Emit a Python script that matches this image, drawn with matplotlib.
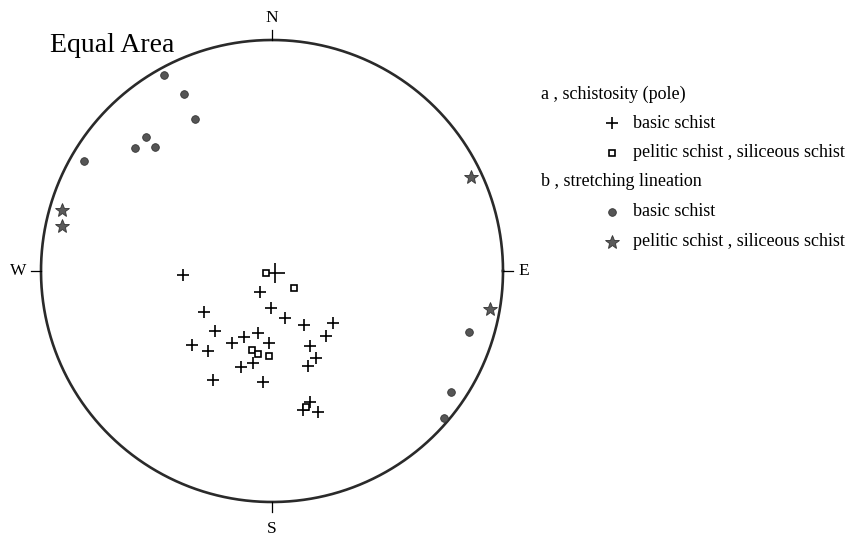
import matplotlib
matplotlib.use("Agg")
from matplotlib import pyplot as plt
from matplotlib.lines import Line2D
import numpy as np

pole_basic_x = [-0.385, -0.052, -0.294, -0.004, 0.056, 0.139, 0.264, 0.234,
                -0.247, -0.121, -0.061, -0.173, -0.013, -0.346, -0.277, 0.165,
                0.190, 0.156, -0.082, -0.134, -0.255, -0.039, 0.165, 0.134, 0.199]
pole_basic_y = [-0.017, -0.091, -0.177, -0.160, -0.203, -0.234, -0.225,
                -0.281, -0.260, -0.286, -0.268, -0.312, -0.312, -0.320, -0.346,
                -0.325, -0.377, -0.411, -0.398, -0.416, -0.472, -0.481, -0.567,
                -0.602, -0.610]
pole_mean_x = [0.013]
pole_mean_y = [-0.009]
pole_pelitic_x = [-0.026, 0.095, -0.087, -0.061, -0.013, 0.147]
pole_pelitic_y = [-0.009, -0.074, -0.342, -0.359, -0.368, -0.589]

lin_basic_x = [-0.468, -0.381, -0.333, -0.545, -0.593, -0.506, -0.814, 0.853, 0.775, 0.745]
lin_basic_y = [0.847, 0.766, 0.658, 0.580, 0.532, 0.537, 0.476, -0.264, -0.524, -0.636]
lin_pelitic_x = [0.861, 0.944, -0.909, -0.909]
lin_pelitic_y = [0.407, -0.165, 0.264, 0.195]

legend_labels = ["a , schistosity (pole)", "basic schist", "pelitic schist , siliceous schist",
                 "b , stretching lineation", "basic schist", "pelitic schist , siliceous schist"]

plt.rcParams["font.family"] = ["Liberation Serif", "DejaVu Serif"]

W, H = 859, 538
fig = plt.figure(figsize=(W / 100, H / 100), dpi=100)

cx, cy, r = 272, 271, 231
ax = fig.add_axes([(cx - r) / W, (H - cy - r) / H, 2 * r / W, 2 * r / H])
ax.set_xlim(-1, 1)
ax.set_ylim(-1, 1)
ax.set_aspect("equal")
ax.axis("off")

t = np.linspace(0, 2 * np.pi, 400)
ax.plot(np.cos(t), np.sin(t), color="#2a2a2a", lw=1.9, clip_on=False)

tick = 10 / r
ax.plot([0, 0], [1, 1 + tick], color="black", lw=0.9, clip_on=False)
ax.plot([0, 0], [-1, -1 - tick], color="black", lw=0.9, clip_on=False)
ax.plot([1, 1 + tick], [0, 0], color="black", lw=0.9, clip_on=False)
ax.plot([-1, -1 - tick], [0, 0], color="black", lw=0.9, clip_on=False)
ax.text(0, 1 + 22 / r, "N", ha="center", va="center", fontsize=12.5)
ax.text(0, -1 - 27 / r, "S", ha="center", va="center", fontsize=12.5)
ax.text(1 + 21 / r, 0, "E", ha="center", va="center", fontsize=12.5)
ax.text(-1 - 23 / r, 0, "W", ha="center", va="center", fontsize=12.5)

ax.plot(pole_basic_x, pole_basic_y, "+", color="black", ms=8.5, mew=1.2, clip_on=False)
ax.plot(pole_mean_x, pole_mean_y, "+", color="black", ms=15, mew=1.2, clip_on=False)
ax.plot(pole_pelitic_x, pole_pelitic_y, "s", mfc="white", mec="black", ms=4.5, mew=1.2,
        clip_on=False)
ax.plot(lin_basic_x, lin_basic_y, "o", mfc="#555555", mec="#333333", ms=5.5, mew=0.6,
        clip_on=False)
ax.plot(lin_pelitic_x, lin_pelitic_y, "*", mfc="#5a5a5a", mec="#333333", ms=10, mew=0.6,
        clip_on=False)

fig.text(50 / W, 1 - 45 / H, "Equal Area", fontsize=20, ha="left", va="center")

# legend drawn by hand
rows_y = [94, 123, 152.5, 182, 211.5, 241.5]
marker_styles = [None,
                 dict(marker="+", color="black", ms=8, mew=1.2),
                 dict(marker="s", mfc="white", mec="black", ms=4.5, mew=1.2),
                 None,
                 dict(marker="o", mfc="#555555", mec="#333333", ms=5.5, mew=0.6),
                 dict(marker="*", mfc="#5a5a5a", mec="#333333", ms=10, mew=0.6)]
for label, y, style in zip(legend_labels, rows_y, marker_styles):
    if style is None:
        fig.text(541 / W, 1 - y / H, label, fontsize=13, ha="left", va="center")
    else:
        fig.add_artist(Line2D([612 / W], [1 - y / H], linestyle="none",
                              transform=fig.transFigure, **style))
        fig.text(633 / W, 1 - y / H, label, fontsize=13, ha="left", va="center")

fig.savefig("out.png", dpi=100)
